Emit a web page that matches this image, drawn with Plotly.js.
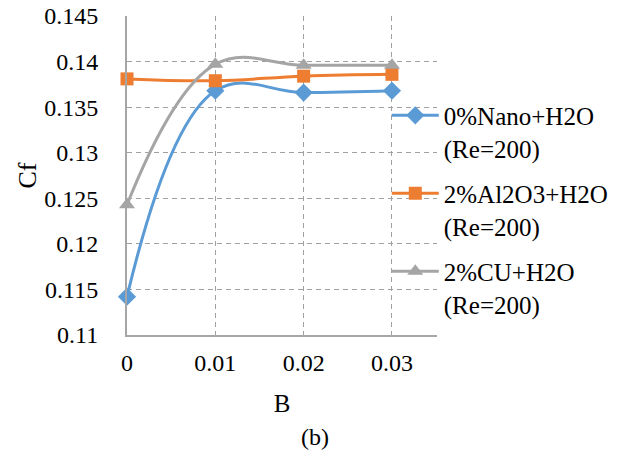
<!DOCTYPE html>
<html><head><meta charset="utf-8">
<script src="https://cdn.plot.ly/plotly-3.0.1.min.js"></script>
<style>body{margin:0;background:#fff}#c{width:629px;height:451px}</style>
</head><body><div id="c"></div>
<script>
const B = [0, 0.01, 0.02, 0.03];
const nano = [0.1142, 0.1368, 0.1366, 0.1368];
const al2o3 = [0.1381, 0.1379, 0.1384, 0.1386];
const cu = [0.1243, 0.1397, 0.1396, 0.1396];
const names = ['0%Nano+H2O<br>(Re=200)', '2%Al2O3+H2O<br>(Re=200)', '2%CU+H2O<br>(Re=200)'];
const xTicks = ['0', '0.01', '0.02', '0.03'];
const yTicks = [0.11, 0.115, 0.12, 0.125, 0.13, 0.135, 0.14, 0.145];

const font = 'Liberation Serif, Times New Roman, serif';
function tr(y, name, color, sym, size, g) {
  return {x: B, y: y, name: name, legendgroup: g, type: 'scatter', mode: 'lines+markers', cliponaxis: false,
    line: {color: color, width: 3, shape: 'spline', smoothing: 1.15},
    marker: {color: color, symbol: sym, size: size}};
}
const data = [
  tr(nano, names[0], '#5b9bd5', 'diamond', 14, 'a'),
  tr(al2o3, names[1], '#ed7d31', 'square', 13, 'b'),
  tr(cu, names[2], '#a5a5a5', 'triangle-up', 14, 'c')
];
const layout = {
  width: 629, height: 451,
  margin: {l: 127, r: 192, t: 16, b: 116},
  paper_bgcolor: '#fff', plot_bgcolor: '#fff',
  font: {family: font, size: 24, color: '#000'},
  showlegend: true,
  legend: {x: 0.838, y: 0.76, xanchor: 'left', yanchor: 'top', bgcolor: 'rgba(0,0,0,0)',
    traceorder: 'grouped', valign: 'top', itemwidth: 47,
    font: {family: font, size: 25, color: '#000'}, tracegroupgap: 10},
  xaxis: {range: [0, 0.0351], tickvals: B, ticktext: xTicks, showline: true, linecolor: '#a6a6a6', linewidth: 2,
    showgrid: true, gridcolor: '#a0a0a0', griddash: '5px,4px', gridwidth: 1, zeroline: false,
    ticks: '', ticklabelstandoff: 5,
    title: {text: 'B', font: {family: font, size: 25}, standoff: 20}},
  yaxis: {range: [0.11, 0.145], tickvals: yTicks, ticktext: yTicks.map(v => String(v)), showline: true, linecolor: '#a6a6a6', linewidth: 2,
    showgrid: true, gridcolor: '#a0a0a0', griddash: '5px,4px', gridwidth: 1, zeroline: false,
    ticks: '', ticklabelstandoff: 22,
    title: {text: 'Cf', font: {family: font, size: 26}, standoff: 0}},
  annotations: [{text: '(b)', xref: 'paper', yref: 'paper', x: 0.606, y: -0.32, xanchor: 'center', yanchor: 'middle', showarrow: false,
    font: {family: font, size: 24}}]
};
Plotly.newPlot('c', data, layout, {displayModeBar: false, staticPlot: true});
</script></body></html>
